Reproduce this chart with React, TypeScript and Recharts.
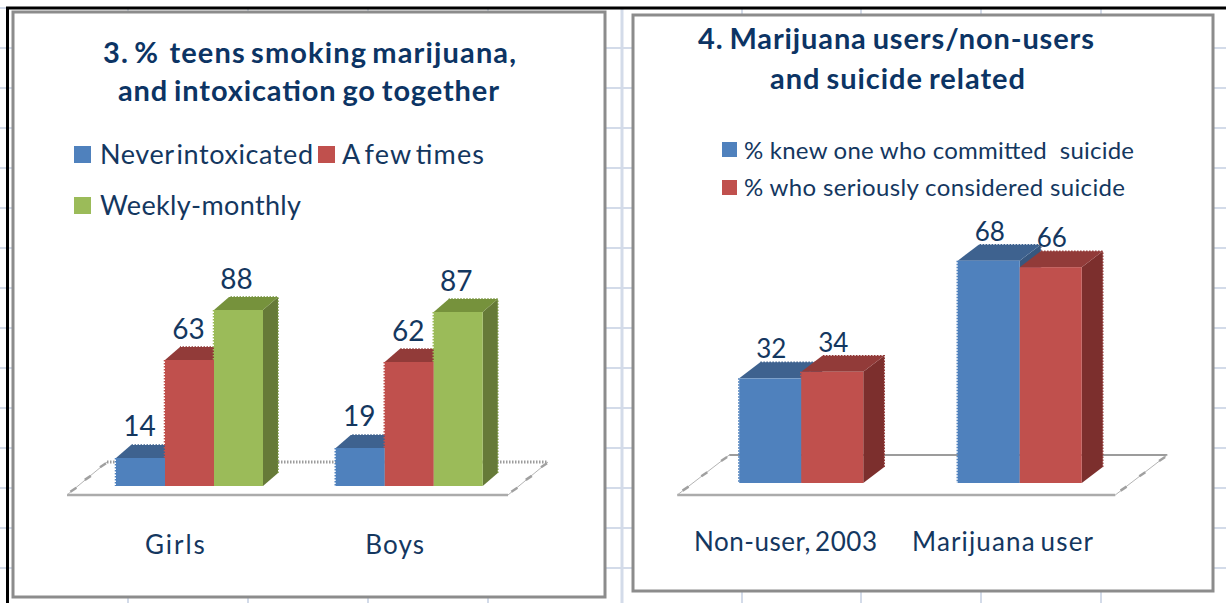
import React from 'react';
import { BarChart, Bar, XAxis, YAxis, Legend, LabelList, usePlotArea } from 'recharts';

// Chart 3: teens smoking marijuana, by how often they were intoxicated
const teenGroups = ['Girls', 'Boys'];
const neverIntoxicated = [14, 19];
const aFewTimes = [63, 62];
const weeklyMonthly = [88, 87];

// Chart 4: marijuana users and non-users, suicide related
const userGroups = ['Non-user, 2003', 'Marijuana user'];
const knewSomeone = [32, 68];
const consideredSuicide = [34, 66];

const teenRows = teenGroups.map((group, i) => ({
  group,
  never: neverIntoxicated[i],
  few: aFewTimes[i],
  weekly: weeklyMonthly[i],
}));
const userRows = userGroups.map((group, i) => ({
  group,
  knew: knewSomeone[i],
  considered: consideredSuicide[i],
}));

const NAVY = '#0C3464';
const LABEL = '#14375F';
const FONT = 'Lato, Carlito, sans-serif';
const GRID = '#D3DBE9';
const FRAME = '#8C8C8C';

const BLUE = { front: '#4F81BD', top: '#3E628F', side: '#37577F' };
const RED = { front: '#C0504D', top: '#923B39', side: '#7C2F2D' };
const GREEN = { front: '#9BBB59', top: '#76923C', side: '#667A38' };

// Draws one column as a box: front, top and right faces, with the slightly
// ragged outer edges of a rasterised 3-D chart.
const boxShape = (
  colors: { front: string; top: string; side: string },
  dx: number,
  dy: number,
  prevKey?: string,
) =>
  function Box(props: any) {
    const { x, y, width, height, payload, value } = props;
    const v = Array.isArray(value) ? value[1] : value;
    const bottom = y + height;
    const right = x + width;
    const unit = height / v;
    const edgeEnd = prevKey ? Math.max(y, bottom - payload[prevKey] * unit) : bottom;
    return (
      <g>
        <polygon
          points={`${right},${y} ${right + dx},${y + dy} ${right + dx},${bottom + dy} ${right},${bottom}`}
          fill={colors.side}
        />
        <polygon
          points={`${x},${y} ${x + dx},${y + dy} ${right + dx},${y + dy} ${right},${y}`}
          fill={colors.top}
        />
        <rect x={x} y={y} width={width} height={height} fill={colors.front} />
        <path
          d={`M${right + dx},${bottom + dy}V${y + dy}H${x + dx}`}
          fill="none"
          stroke={colors.top}
          strokeWidth={1.5}
          strokeDasharray="1.5 1.5"
        />
        {edgeEnd > y && (
          <line
            x1={x - 0.5}
            x2={x - 0.5}
            y1={y}
            y2={edgeEnd}
            stroke={colors.front}
            strokeWidth={1.5}
            strokeDasharray="1.5 1.5"
          />
        )}
      </g>
    );
  };

// Number above a column; the offsets follow the column's depth.
const valueLabel = (shiftX: number, shiftY: number, size: number) =>
  function ValueLabel(props: any) {
    const { x, y, width, value } = props;
    return (
      <text
        x={x + width / 2 + shiftX}
        y={y - shiftY}
        textAnchor="middle"
        fontFamily={FONT}
        fontSize={size}
        fill={LABEL}
      >
        {value}
      </text>
    );
  };

const categoryTick = (shifts: number[], shiftY: number, lengths: number[]) =>
  function CategoryTick(props: any) {
    const { x, y, payload, index } = props;
    return (
      <text
        x={x + shifts[index]}
        y={y + shiftY}
        textAnchor="middle"
        fontFamily={FONT}
        fontSize={26}
        fill={LABEL}
        textLength={lengths[index]}
        lengthAdjust="spacing"
        wordSpacing={-3}
      >
        {payload.value}
      </text>
    );
  };

// The floor of the 3-D chart: a parallelogram with tick marks on the short sides.
function Floor({
  frontLeft,
  frontRight,
  frontDrop,
  backShift,
  rise,
  backDash,
  backWidth,
}: {
  frontLeft: number;
  frontRight: number;
  frontDrop: number;
  backShift: number;
  rise: number;
  backDash?: string;
  backWidth: number;
}) {
  const plot = usePlotArea();
  if (!plot) return null;
  const frontY = plot.y + plot.height + frontDrop;
  const backY = frontY - rise;
  const x0 = plot.x + frontLeft;
  const x1 = plot.x + plot.width + frontRight;
  const marks = [0.16, 0.52, 0.9];
  return (
    <g>
      <line x1={x0 + backShift} x2={x1 + backShift} y1={backY} y2={backY} stroke="#9C9C9C" strokeWidth={backWidth} strokeDasharray={backDash} />
      <line x1={x0} x2={x1} y1={frontY} y2={frontY} stroke="#ABABAB" strokeWidth={2.5} />
      {[x0, x1].map((sx) => (
        <g key={sx}>
          <line x1={sx} y1={frontY} x2={sx + backShift} y2={backY} stroke="#B4B4B4" strokeWidth={1} />
          {marks.map((t) => (
            <line
              key={t}
              x1={sx + backShift * t - 3}
              y1={frontY - rise * t + 2}
              x2={sx + backShift * t + 3}
              y2={frontY - rise * t - 2}
              stroke="#A0A0A0"
              strokeWidth={2.5}
            />
          ))}
        </g>
      ))}
    </g>
  );
}

type Slot = { x: number; y: number; textX: number; length: number; baseline: number; wordGap: number };

// Legend rows are laid out by hand so the entries wrap the way the chart has them.
const legendContent = (slots: Slot[], box: number, size: number, width: number, height: number) =>
  function LegendContent({ payload }: any) {
    return (
      <svg width={width} height={height} style={{ display: 'block', overflow: 'visible' }}>
        {(payload || []).map((entry: any, i: number) => (
          <g key={entry.value}>
            <rect x={slots[i].x} y={slots[i].y} width={box} height={box} fill={entry.color} />
            <text
              x={slots[i].textX}
              y={slots[i].baseline}
              fontFamily={FONT}
              fontSize={size}
              fill={LABEL}
              textLength={slots[i].length}
              lengthAdjust="spacing"
              wordSpacing={slots[i].wordGap}
              style={{ whiteSpace: 'pre' }}
            >
              {entry.value}
            </text>
          </g>
        ))}
      </svg>
    );
  };

const teenSlots: Slot[] = [
  { x: 0, y: 0, textX: 26, length: 213, baseline: 18, wordGap: -5 },
  { x: 244, y: 0, textX: 268, length: 142, baseline: 18, wordGap: -4 },
  { x: 0, y: 51, textX: 26, length: 201, baseline: 69, wordGap: 0 },
];
const userSlots: Slot[] = [
  { x: 0, y: 0, textX: 22, length: 390, baseline: 17, wordGap: 0 },
  { x: 0, y: 38, textX: 22, length: 381, baseline: 54, wordGap: 0 },
];

const hLines = [8, 48, 88, 128, 168, 208, 248, 288, 328, 368, 408, 448, 488, 528, 568];
const vLines = [128, 248, 368, 488, 622, 742, 861, 981, 1101];

function Backdrop() {
  const title = {
    fontFamily: FONT,
    fontWeight: 700,
    fontSize: 29,
    fill: NAVY,
    textAnchor: 'middle' as const,
    lengthAdjust: 'spacing' as const,
  };
  return (
    <svg width={1226} height={603} style={{ position: 'absolute', left: 0, top: 0 }}>
      <rect width={1226} height={603} fill="#FFFFFF" />
      {hLines.map((y) => (
        <line key={y} x1={0} x2={1226} y1={y} y2={y} stroke={GRID} strokeWidth={2} />
      ))}
      {vLines.map((x) => (
        <line key={x} x1={x} x2={x} y1={0} y2={603} stroke={GRID} strokeWidth={x === 622 ? 3 : 2} />
      ))}
      <rect x={0} y={0} width={1226} height={7} fill="#FFFFFF" />
      <rect x={13} y={12} width={592} height={585} fill="#FFFFFF" stroke={FRAME} strokeWidth={3} />
      <rect x={633} y={15} width={580} height={576} fill="#FFFFFF" stroke={FRAME} strokeWidth={3} />
      <line x1={6} x2={1226} y1={8} y2={8} stroke="#000000" strokeWidth={3} />
      <line x1={7.5} x2={7.5} y1={7} y2={603} stroke="#000000" strokeWidth={3} />
      <text {...title} x={309.5} y={63} textLength={413} wordSpacing={-3} style={{ whiteSpace: 'pre' }}>3. %  teens smoking marijuana,</text>
      <text {...title} x={308.5} y={101} textLength={381} wordSpacing={-2}>and intoxication go together</text>
      <text {...title} x={896} y={49} textLength={396} wordSpacing={-2}>4. Marijuana users/non-users</text>
      <text {...title} x={897.5} y={89} textLength={255} wordSpacing={-2}>and suicide related</text>
    </svg>
  );
}

export default function App() {
  const layer = { position: 'absolute' as const, top: 0 };
  return (
    <div style={{ position: 'absolute', left: 0, top: 0, width: 1226, height: 603, overflow: 'hidden' }}>
      <Backdrop />
      <div style={{ ...layer, left: 0 }}>
        <BarChart
          width={620}
          height={603}
          data={teenRows}
          barSize={49}
          barGap={0}
          margin={{ top: 286, right: 100.5, bottom: 0, left: 80 }}
        >
          <Floor frontLeft={-13} frontRight={-11.5} frontDrop={9} backShift={40} rise={33} backDash="1.5 1.5" backWidth={3} />
          <XAxis dataKey="group" axisLine={false} tickLine={false} height={117} tick={categoryTick([-15, -15], 60, [60, 59])} interval={0} />
          <YAxis hide domain={[0, 100]} />
          <Legend
            layout="horizontal"
            align="center"
            verticalAlign="middle"
            itemSorter={null}
            wrapperStyle={{ left: 74, top: 146, width: 500, height: 90 }}
            content={legendContent(teenSlots, 17, 27, 500, 90)}
          />
          <Bar dataKey="never" name="Never intoxicated" fill={BLUE.front} isAnimationActive={false} shape={boxShape(BLUE, 15, -13)}>
            <LabelList dataKey="never" content={valueLabel(-1, 22, 28)} />
          </Bar>
          <Bar dataKey="few" name="A few times" fill={RED.front} isAnimationActive={false} shape={boxShape(RED, 15, -13, 'never')}>
            <LabelList dataKey="few" content={valueLabel(-1, 21, 28)} />
          </Bar>
          <Bar dataKey="weekly" name="Weekly-monthly" fill={GREEN.front} isAnimationActive={false} shape={boxShape(GREEN, 15, -13, 'few')}>
            <LabelList dataKey="weekly" content={valueLabel(-2, 21, 28)} />
          </Bar>
        </BarChart>
      </div>
      <div style={{ ...layer, left: 620 }}>
        <BarChart
          width={606}
          height={603}
          data={userRows}
          barSize={62}
          barGap={0}
          margin={{ top: 221.4, right: 96.75, bottom: 0, left: 72.25 }}
        >
          <Floor frontLeft={-15} frontRight={-14} frontDrop={12} backShift={52} rise={40} backWidth={2} />
          <XAxis dataKey="group" axisLine={false} tickLine={false} height={120} tick={categoryTick([-16, -17.5], 60, [183, 181])} interval={0} />
          <YAxis hide domain={[0, 80]} />
          <Legend
            layout="horizontal"
            align="center"
            verticalAlign="middle"
            itemSorter={null}
            wrapperStyle={{ left: 102, top: 142, width: 440, height: 70 }}
            content={legendContent(userSlots, 15, 24, 440, 70)}
          />
          <Bar dataKey="knew" name="% knew one who committed  suicide" fill={BLUE.front} isAnimationActive={false} shape={boxShape(BLUE, 21, -16)}>
            <LabelList dataKey="knew" content={valueLabel(1, 20, 26)} />
          </Bar>
          <Bar dataKey="considered" name="% who seriously considered suicide" fill={RED.front} isAnimationActive={false} shape={boxShape(RED, 21, -16, 'knew')}>
            <LabelList dataKey="considered" content={valueLabel(1, 20, 26)} />
          </Bar>
        </BarChart>
      </div>
    </div>
  );
}
